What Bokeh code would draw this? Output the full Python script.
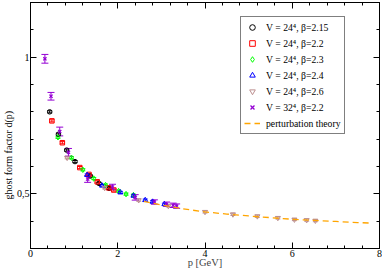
import math
from bokeh.plotting import figure
from bokeh.models import (ColumnDataSource, Whisker, TeeHead, FixedTicker, LinearAxis,
                          Legend, LegendItem, Title)
from bokeh.embed import file_html
from bokeh.resources import INLINE

# ---- data ----
b215_p = [0.44, 0.64, 0.83, 1.02, 1.37, 1.57, 1.80]
b215_d = [0.800, 0.718, 0.660, 0.618, 0.565, 0.538, 0.520]

b22_p = [0.49, 0.73, 1.13, 1.34, 1.53, 1.79, 1.91]
b22_d = [0.767, 0.687, 0.596, 0.571, 0.544, 0.522, 0.514]

b23_p = [0.63, 0.94, 1.20, 1.45, 1.72, 2.02, 2.19, 2.36]
b23_d = [0.707, 0.632, 0.588, 0.556, 0.532, 0.510, 0.499, 0.495]

b24_p = [1.30, 1.64, 2.06, 2.36, 2.63, 2.80, 3.07]
b24_d = [0.569, 0.530, 0.505, 0.493, 0.477, 0.471, 0.462]

b26_p = [0.84, 1.70, 2.48, 3.16, 4.00, 4.64, 5.20, 5.67, 6.05, 6.33, 6.53]
b26_d = [0.632, 0.522, 0.477, 0.456, 0.434, 0.425, 0.418, 0.412, 0.406, 0.404, 0.402]

v32_p = [0.33, 0.47, 0.67, 0.87, 1.31, 1.88, 2.40, 2.84, 3.12, 3.27, 3.35]
v32_d = [0.994, 0.857, 0.728, 0.652, 0.554, 0.525, 0.487, 0.470, 0.462, 0.458, 0.455]
v32_err = [0.016, 0.014, 0.016, 0.014, 0.012, 0.010, 0.010, 0.008, 0.008, 0.008, 0.008]

pt_p = [2.6, 3.0, 3.5, 4.0, 4.5, 5.0, 5.5, 6.0, 6.5, 7.0, 7.5, 7.8]
pt_d = [0.472, 0.459, 0.445, 0.434, 0.426, 0.419, 0.413, 0.407, 0.403, 0.399, 0.395, 0.393]

small_err = 0.004

x_major = [0, 2, 4, 6, 8]
x_minor = [round(0.4 * i, 1) for i in range(21)]
y_major = [0.5, 1.0]
y_minor = [round(0.3 + 0.1 * i, 1) for i in range(10)]
y_labels = {0.5: "0,5", 1.0: "1"}

labels = ["V = 24\u2074, \u03b2=2.15", "V = 24\u2074, \u03b2=2.2", "V = 24\u2074, \u03b2=2.3",
          "V = 24\u2074, \u03b2=2.4", "V = 24\u2074, \u03b2=2.6", "V = 32\u2074, \u03b2=2.2",
          "perturbation theory"]

FONT = "Liberation Serif"

p = figure(width=382, height=270, output_backend="svg", toolbar_location=None,
           x_range=(0, 8), y_range=(0.3, 1.2),
           min_border_left=20, min_border_right=3, min_border_top=2, min_border_bottom=22)
p.grid.visible = False
p.outline_line_color = "black"
p.background_fill_color = "white"
p.border_fill_color = "white"

def style_axis(ax, labels_on=True):
    ax.axis_line_color = "black"
    ax.major_tick_in = 6
    ax.major_tick_out = 0
    ax.minor_tick_in = 3
    ax.minor_tick_out = 0
    ax.major_tick_line_color = "black"
    ax.minor_tick_line_color = "black"
    ax.major_label_text_font = FONT
    ax.major_label_text_font_size = "10px" if labels_on else "1px"
    ax.major_label_text_color = "black" if labels_on else None
    ax.major_label_standoff = 2 if labels_on else 0
    ax.axis_label_text_font = FONT
    ax.axis_label_text_font_size = "10.5px"
    ax.axis_label_text_font_style = "normal"
    ax.axis_label_standoff = 0

xt = FixedTicker(ticks=x_major, minor_ticks=x_minor)
yt = FixedTicker(ticks=y_major, minor_ticks=y_minor)

p.xaxis.ticker = xt
p.yaxis.ticker = yt
p.yaxis.major_label_overrides = y_labels
p.xaxis.axis_label = "p [GeV]"
style_axis(p.xaxis[0])
style_axis(p.yaxis[0])
p.xaxis.major_label_standoff = 1
p.xaxis.axis_label_standoff = -3
p.yaxis.major_label_standoff = 1

top = LinearAxis(ticker=FixedTicker(ticks=x_major, minor_ticks=x_minor))
right = LinearAxis(ticker=FixedTicker(ticks=y_major, minor_ticks=y_minor))
style_axis(top, False)
style_axis(right, False)
p.add_layout(top, "above")
p.add_layout(right, "right")

series = [
    (b215_p, b215_d, None, "#000000", "circle", 4.5),
    (b22_p, b22_d, None, "#ff0000", "square", 4.5),
    (b23_p, b23_d, None, "#00ff00", "diamond", 5.5),
    (b24_p, b24_d, None, "#0000ff", "triangle", 5),
    (b26_p, b26_d, None, "#bc8f8f", "inverted_triangle", 5),
    (v32_p, v32_d, v32_err, "#9400d3", "x", 4.5),
]

items = []
for i, (xs, ys, errs, col, mk, sz) in enumerate(series):
    big = errs is not None
    if errs is None:
        errs = [small_err] * len(xs)
    src = ColumnDataSource(dict(x=xs, y=ys,
                                lo=[y - e for y, e in zip(ys, errs)],
                                hi=[y + e for y, e in zip(ys, errs)]))
    hs = 7 if big else 5
    w = Whisker(source=src, base="x", upper="hi", lower="lo", dimension="height",
                line_color=col, line_width=1,
                upper_head=TeeHead(size=hs, line_color=col, line_width=1),
                lower_head=TeeHead(size=hs, line_color=col, line_width=1))
    p.add_layout(w)
    r = p.scatter("x", "y", source=src, marker=mk, size=sz, line_color=col,
                  fill_color=None, line_width=1.3 if mk == "x" else 1)
    items.append(LegendItem(label=labels[i], renderers=[r]))

lr = p.line(pt_p, pt_d, line_color="#ffa500", line_width=1.3, line_dash="6 4")
items.append(LegendItem(label=labels[6], renderers=[lr]))

leg = Legend(items=items, location=(210, 114))
leg.label_text_font = FONT
leg.label_text_font_size = "9.7px"
leg.label_text_color = "black"
leg.border_line_color = "black"
leg.border_line_width = 1
leg.background_fill_color = "white"
leg.background_fill_alpha = 1
leg.padding = 3
leg.margin = 0
leg.spacing = 2
leg.glyph_width = 16
leg.glyph_height = 14
leg.label_height = 14
leg.label_standoff = 6
p.add_layout(leg)

ytitle = Title(text="ghost form factor d(p)", align="left", offset=49,
               text_font=FONT, text_font_size="10px", text_font_style="normal",
               text_color="black", standoff=0)
p.add_layout(ytitle, "left")

open("out.html", "w").write(file_html(p, INLINE))
